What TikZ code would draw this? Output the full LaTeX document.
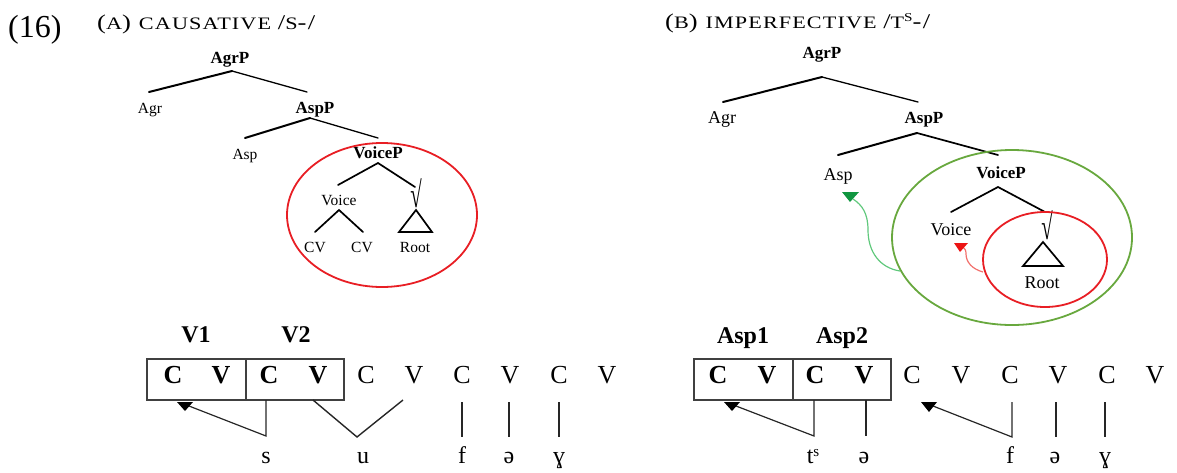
\documentclass[tikz,border=0pt]{standalone}
\usepackage{fontspec}
\setmainfont{Liberation Serif}
\usepackage{graphicx}
\definecolor{ringred}{RGB}{232,30,36}
\definecolor{ringgreen}{RGB}{104,168,62}
\definecolor{arrgreenline}{RGB}{96,200,124}
\definecolor{arrgreenhead}{RGB}{16,150,64}
\definecolor{arrredline}{RGB}{242,112,108}
\definecolor{arrredhead}{RGB}{236,20,20}
\newcommand\Pz{\fontsize{21}{21}\selectfont}
\newcommand\Sc{\fontsize{17.5}{17.5}\selectfont}
\newcommand\myrad{\scalebox{0.8}[1.4]{√}}
\tikzset{
  lb/.style={anchor=base, inner sep=0pt, font=\fontsize{17}{17}\selectfont\bfseries},
  lr/.style={anchor=base, inner sep=0pt, font=\fontsize{15.5}{15.5}\selectfont},
  lrR/.style={anchor=base, inner sep=0pt, font=\fontsize{18}{18}\selectfont},
  rad/.style={inner sep=0pt, font=\fontsize{26}{26}\selectfont},
  segb/.style={anchor=base, inner sep=0pt, font=\fontsize{26}{26}\selectfont\bfseries},
  segr/.style={anchor=base, inner sep=0pt, font=\fontsize{26}{26}\selectfont},
  cvlab/.style={anchor=base, inner sep=0pt, font=\fontsize{24}{24}\selectfont\bfseries},
  phon/.style={anchor=base, inner sep=0pt, font=\fontsize{24}{24}\selectfont},
  brthick/.style={line width=2pt, line cap=round},
  brthin/.style={line width=1.3pt, line cap=round},
  brmid/.style={line width=1.7pt, line cap=round},
  assoc/.style={line width=1.2pt, black!85},
  boxline/.style={line width=1.2pt, black!75},
}
\begin{document}
\begin{tikzpicture}[x=1pt,y=-1pt]
\useasboundingbox (0,0) rectangle (1177,472);

% ---------- titles ----------
\node[anchor=base west, inner sep=0pt] (num) at (8,37) {\fontsize{32}{32}\selectfont (16)};
\node[anchor=base west, inner sep=0pt] (titA) at (97,29)
  {\resizebox{218pt}{\height}{\addfontfeatures{LetterSpace=5}\Pz(\Sc A\Pz) \Sc CAUSATIVE \Pz/\Sc S\Pz-/}};
\node[anchor=base west, inner sep=0pt] (titB) at (665,28)
  {\resizebox{265pt}{\height}{\addfontfeatures{LetterSpace=5}\Pz(\Sc B\Pz) \Sc IMPERFECTIVE \Pz/\Sc T\raisebox{7pt}{\fontsize{12}{12}\selectfont S}\Pz-/}};

% ---------- left tree ----------
\node[lb] (AgrPa) at (230,63) {AgrP};
\node[lr] (Agra) at (150,113) {Agr};
\node[lb] (AspPa) at (315,113) {AspP};
\node[lr] (Aspa) at (245,159) {Asp};
\node[lb] (VoicePa) at (378,158) {VoiceP};
\node[lr] (Voicea) at (339,205) {Voice};
\node[rad] (rada) at (416,193) {\myrad};
\node[lr] (CVa) at (315,252) {CV};
\node[lr] (CVb) at (362,252) {CV};
\node[lr] (Roota) at (415,252) {Root};

\coordinate (a1) at (232,71);  \coordinate (a1l) at (149,92);  \coordinate (a1r) at (307,92);
\coordinate (a2) at (310,118); \coordinate (a2l) at (245,138); \coordinate (a2r) at (378,138);
\coordinate (a3) at (378,163); \coordinate (a3l) at (338,185); \coordinate (a3r) at (415,187);
\coordinate (a4) at (339,210); \coordinate (a4l) at (315,232); \coordinate (a4r) at (363,232);
\draw[brthick] (a1) -- (a1l);
\draw[brthin] (a1) -- (a1r);
\draw[brthick] (a2) -- (a2l);
\draw[brthin] (a2) -- (a2r);
\draw[brmid] (a3l) -- (a3) -- (a3r);
\draw[brmid] (a4l) -- (a4) -- (a4r);
\draw[brmid, line join=miter] (416,210) -- (399,232) -- (432,232) -- cycle;
\draw[ringred, line width=1.8pt] (382,215) ellipse [x radius=95pt, y radius=72pt];

% ---------- right tree ----------
\node[lb] (AgrPb) at (822,58) {AgrP};
\node[lrR] (Agrb) at (722,123) {Agr};
\node[lb] (AspPb) at (924,123) {AspP};
\node[lrR] (Aspb) at (838,180) {Asp};
\node[lb] (VoicePb) at (1001,178) {VoiceP};
\node[lrR] (Voiceb) at (951,235) {Voice};
\node[rad] (radb) at (1047,225) {\myrad};
\node[lrR] (Rootb) at (1042,288) {Root};

\coordinate (b1) at (822,77);  \coordinate (b1l) at (723,102); \coordinate (b1r) at (918,102);
\coordinate (b2) at (917,133); \coordinate (b2l) at (838,155); \coordinate (b2r) at (998,155);
\coordinate (b3) at (998,187); \coordinate (b3l) at (951,212); \coordinate (b3r) at (1045,212);
\draw[brthick] (b1) -- (b1l);
\draw[brthin] (b1) -- (b1r);
\draw[brthick] (b2) -- (b2l);
\draw[brmid] (b2) -- (b2r);
\draw[brmid] (b3l) -- (b3) -- (b3r);
\draw[brmid, line join=miter] (1043,242) -- (1023,266) -- (1063,266) -- cycle;
\draw[ringgreen, line width=1.8pt] (1012,237.5) ellipse [x radius=120pt, y radius=87.5pt];
\draw[ringred, line width=1.8pt] (1045,259.5) ellipse [x radius=62pt, y radius=47.5pt];

% movement arrows
\coordinate (gs) at (900,271);
\coordinate (ge) at (853,199);
\draw[arrgreenline, line width=1.2pt] (gs) .. controls (880,268) and (868,252) .. (868,230)
   .. controls (868,213) and (862,205) .. (ge);
\fill[arrgreenhead] (842,192) -- (859,192) -- (850,202) -- cycle;
\coordinate (rs) at (983,272);
\coordinate (re) at (963,247);
\draw[arrredline, line width=1.2pt] (rs) .. controls (972,269) and (966,262) .. (966,254) .. controls (966,250) and (965,249) .. (re);
\fill[arrredhead] (954,243) -- (968,243) -- (960,252) -- cycle;

% ---------- bottom left (A) ----------
\node[cvlab] (V1) at (196,342) {V1};
\node[cvlab] (V2) at (296,342) {V2};
\draw[boxline] (147,359) rectangle (344,400);
\draw[boxline] (246,359) -- (246,400);
\foreach \i/\x/\t in {0/173/C,1/221/V,2/269/C,3/318/V}
  \node[segb] (la\i) at (\x,383) {\t};
\foreach \i/\x/\t in {4/366/C,5/414/V,6/462/C,7/510/V,8/559/C,9/607/V}
  \node[segr] (la\i) at (\x,383) {\t};
\node[phon] (ps) at (266,463) {s};
\node[phon] (pu) at (363,463) {u};
\node[phon] (pfa) at (462,463) {f};
\node[phon] (pea) at (509,463) {ə};
\node[phon] (pga) at (559,463) {ɣ};

\coordinate (sA) at (266,400); \coordinate (sB) at (266,436); \coordinate (sH) at (189,406);
\draw[assoc] (sA) -- (sB) -- (sH);
\fill[black] (177,402) -- (193,402) -- (185,411) -- cycle;
\coordinate (uA) at (313,400); \coordinate (uB) at (357,437); \coordinate (uC) at (403,400);
\draw[assoc, line width=1.4pt] (uA) -- (uB) -- (uC);
\foreach \x in {462,509,559}
  \draw[assoc, line width=1.4pt] (\x,402) -- (\x,437);

% ---------- bottom right (B) ----------
\node[cvlab] (Asp1) at (743,343) {Asp1};
\node[cvlab] (Asp2) at (842,343) {Asp2};
\draw[boxline] (694,359) rectangle (891,400);
\draw[boxline] (793,359) -- (793,400);
\foreach \i/\x/\t in {0/718/C,1/767/V,2/815/C,3/864/V}
  \node[segb] (lb\i) at (\x,383) {\t};
\foreach \i/\x/\t in {4/912/C,5/961/V,6/1010/C,7/1058/V,8/1107/C,9/1155/V}
  \node[segr] (lb\i) at (\x,383) {\t};
\node[phon] (pts) at (813,463) {t\raisebox{7pt}{\fontsize{15}{15}\selectfont s}};
\node[phon] (peb) at (864,463) {ə};
\node[phon] (pfb) at (1010,463) {f};
\node[phon] (pec) at (1055,463) {ə};
\node[phon] (pgb) at (1105,463) {ɣ};

\coordinate (tA) at (814,400); \coordinate (tB) at (814,436); \coordinate (tH) at (736,406);
\draw[assoc] (tA) -- (tB) -- (tH);
\fill[black] (724,402) -- (740,402) -- (732,411) -- cycle;
\draw[assoc, line width=1.4pt] (866,400) -- (866,436);
\coordinate (fA) at (1012,402); \coordinate (fB) at (1012,437); \coordinate (fH) at (933,406);
\draw[assoc] (fA) -- (fB) -- (fH);
\fill[black] (921,402) -- (937,402) -- (929,412) -- cycle;
\foreach \x in {1056,1105}
  \draw[assoc, line width=1.4pt] (\x,402) -- (\x,437);
\end{tikzpicture}
\end{document}
